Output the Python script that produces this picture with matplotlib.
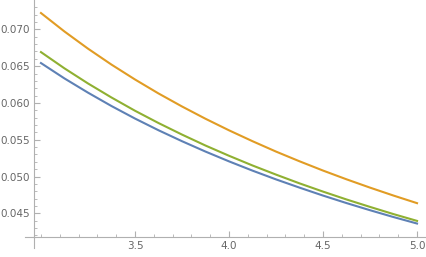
import matplotlib
matplotlib.use("Agg")
import matplotlib.pyplot as plt
from matplotlib.ticker import MultipleLocator, FormatStrFormatter

x = [3.0, 3.125, 3.25, 3.375, 3.5, 3.625, 3.75, 3.875, 4.0,
     4.125, 4.25, 4.375, 4.5, 4.625, 4.75, 4.875, 5.0]
blue = [0.06542, 0.06333, 0.06140, 0.05958, 0.05788, 0.05629, 0.05480, 0.05339, 0.05206,
        0.05080, 0.04961, 0.04849, 0.04741, 0.04639, 0.04542, 0.04449, 0.04361]
orange = [0.07222, 0.06971, 0.06738, 0.06521, 0.06319, 0.06129, 0.05952, 0.05785, 0.05628,
          0.05480, 0.05339, 0.05207, 0.05081, 0.04962, 0.04849, 0.04741, 0.04638]
green = [0.06691, 0.06470, 0.06265, 0.06074, 0.05894, 0.05727, 0.05570, 0.05421, 0.05282,
         0.05150, 0.05026, 0.04907, 0.04795, 0.04688, 0.04587, 0.04489, 0.04397]

xticks = [3.5, 4.0, 4.5, 5.0]
yticks = [0.045, 0.050, 0.055, 0.060, 0.065, 0.070]

axis_col = "#b0b0b0"
text_col = "#666666"

fig = plt.figure(figsize=(4.27, 2.57), dpi=100)
ax = fig.add_axes([34 / 427, 1 - 237 / 257, (427 - 34) / 427, 237 / 257])

ax.plot(x, blue, color="#5e81b5", lw=1.5, solid_joinstyle="round")
ax.plot(x, orange, color="#e19c24", lw=1.5, solid_joinstyle="round")
ax.plot(x, green, color="#8fb032", lw=1.5, solid_joinstyle="round")

ax.set_xlim(2.963, 5.053)
ax.set_ylim(0.04178, 0.07399)

for s in ["top", "right"]:
    ax.spines[s].set_visible(False)
for s in ["left", "bottom"]:
    ax.spines[s].set_color(axis_col)
    ax.spines[s].set_linewidth(0.8)

# little overhang of the axes past their crossing, Mathematica style
ax.plot([-9 / 393, 0], [0, 0], transform=ax.transAxes, color=axis_col, lw=0.8, clip_on=False)
ax.plot([0, 0], [-11 / 237, 0], transform=ax.transAxes, color=axis_col, lw=0.8, clip_on=False)

ax.set_xticks(xticks)
ax.set_yticks(yticks)
ax.xaxis.set_minor_locator(MultipleLocator(0.1))
ax.yaxis.set_minor_locator(MultipleLocator(0.001))
ax.xaxis.set_major_formatter(FormatStrFormatter("%.1f"))
ax.yaxis.set_major_formatter(FormatStrFormatter("%.3f"))

ax.tick_params(which="major", direction="in", length=4, width=0.8, color=axis_col,
               labelsize=7.5, labelcolor=text_col, pad=3)
ax.tick_params(which="minor", direction="in", length=2, width=0.6, color=axis_col)

fig.savefig("out.png", dpi=100)
